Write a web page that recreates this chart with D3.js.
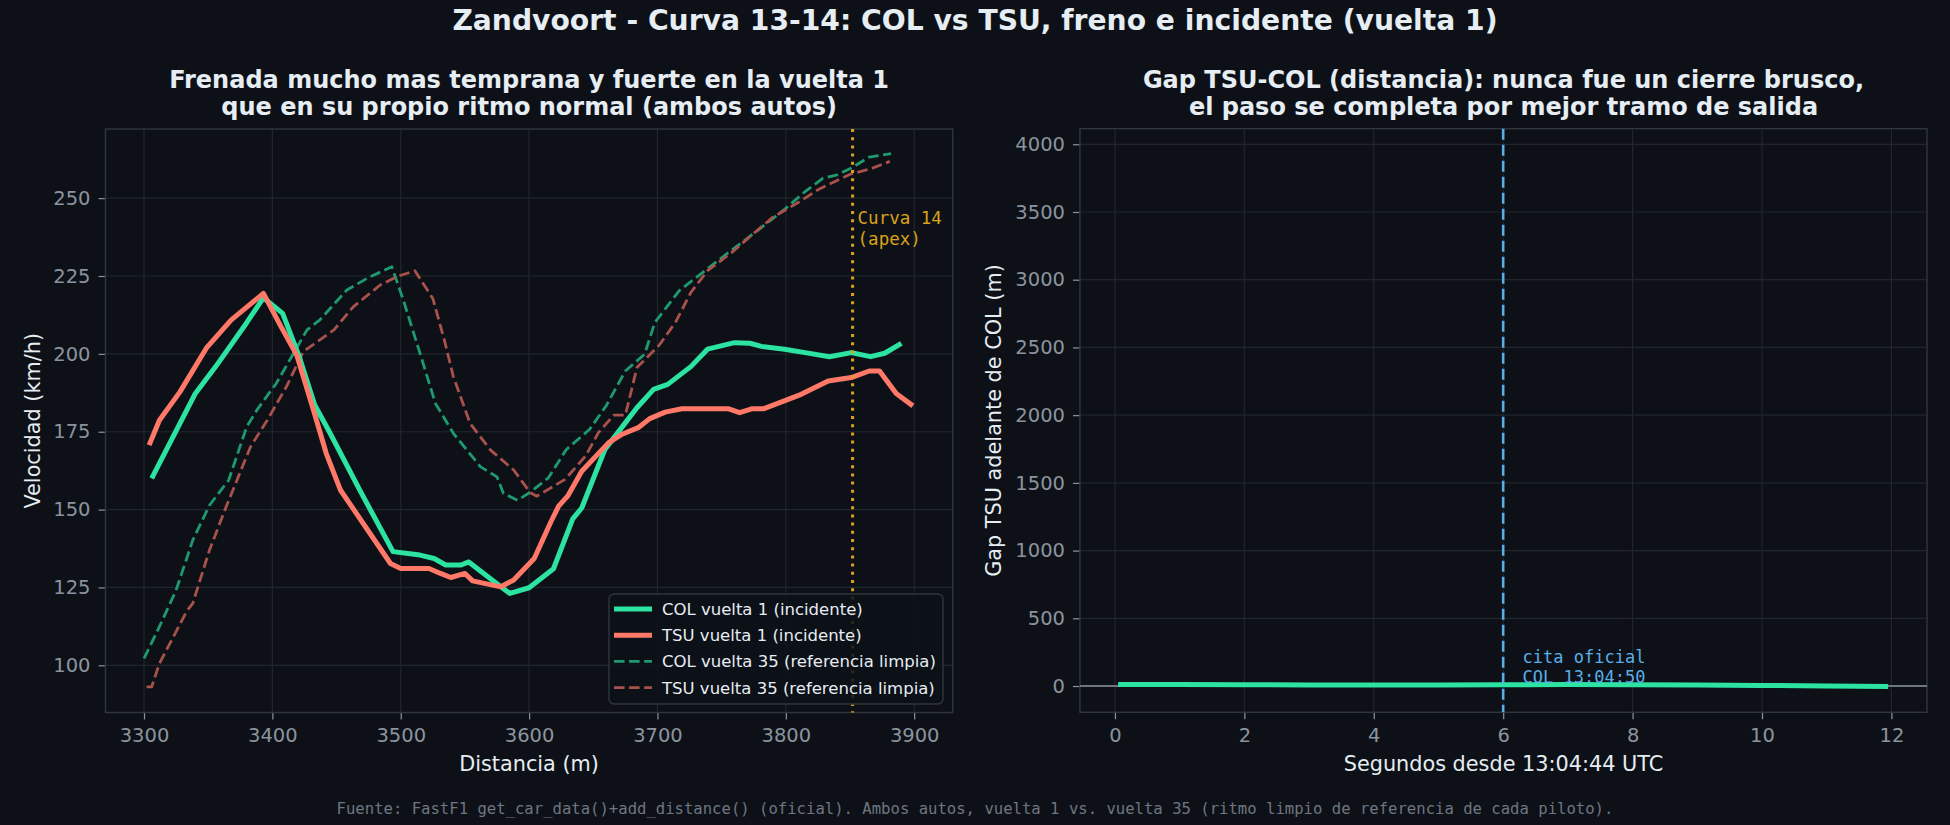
<!DOCTYPE html>
<html>
<head>
<meta charset="utf-8">
<script src="https://cdn.jsdelivr.net/npm/d3@7"></script>
<style>
  html, body { margin: 0; padding: 0; background: #0d1117; }
  svg { display: block; }
  text { font-family: "DejaVu Sans", sans-serif; }
  .mono { font-family: "DejaVu Sans Mono", monospace; }
</style>
</head>
<body>
<div id="chart"></div>
<script>
// -- data: velocidad vs distancia --
var col1_dist  = [3306, 3340, 3356, 3380, 3393, 3408, 3421, 3433, 3445, 3468, 3494, 3515, 3526, 3535, 3547, 3553, 3578, 3585, 3600, 3619, 3634, 3641, 3659, 3673, 3684, 3697, 3708, 3726, 3739, 3760, 3772, 3781, 3799, 3815, 3834, 3851, 3866, 3877, 3890];
var col1_speed = [160, 187.3, 196, 210, 218, 213, 199, 183.6, 174.5, 156.3, 136.5, 135.4, 134.3, 132.2, 132.2, 133.2, 125.2, 123.1, 124.9, 131, 147, 150.5, 169.3, 176.8, 182.7, 188.6, 190.2, 195.9, 201.5, 203.6, 203.4, 202.4, 201.5, 200.4, 199.1, 200.4, 199.1, 200.2, 203.4];

var tsu1_dist  = [3304, 3312, 3328, 3349, 3368, 3393, 3406, 3419, 3432, 3442, 3453, 3492, 3500, 3522, 3531, 3539, 3550, 3556, 3578, 3588, 3604, 3617, 3623, 3630, 3641, 3662, 3672, 3685, 3694, 3706, 3719, 3755, 3764, 3774, 3783, 3812, 3833, 3851, 3865, 3873, 3886, 3899];
var tsu1_speed = [170.7, 178.7, 187.8, 202.1, 210.9, 219.4, 209.3, 199.6, 182, 168, 156.3, 132.7, 131.1, 131.1, 129.5, 128.2, 129.5, 127.1, 125.2, 127.4, 134.3, 146.1, 151.1, 154.3, 162.3, 171.5, 174.1, 176.3, 179.2, 181.3, 182.4, 182.4, 181.1, 182.4, 182.4, 187, 191.3, 192.4, 194.5, 194.5, 187.3, 183.3];

var col35_dist  = [3300, 3312, 3325, 3338, 3351, 3366, 3380, 3388, 3403, 3427, 3437, 3458, 3474, 3493, 3502, 3515, 3527, 3541, 3562, 3575, 3580, 3591, 3601, 3615, 3629, 3647, 3660, 3675, 3690, 3698, 3717, 3737, 3752, 3778, 3799, 3815, 3829, 3840, 3851, 3865, 3882];
var col35_speed = [102.2, 112.4, 124.1, 140.2, 151.4, 159.5, 176.6, 182, 190.5, 207.7, 210.9, 220.5, 224.3, 228, 217.3, 200.2, 184.1, 174.5, 163.8, 160.5, 155.2, 153, 155.6, 160.2, 169.3, 175.7, 183.3, 194.5, 199.9, 210.1, 220.3, 226.7, 231.5, 239.6, 246.4, 252.1, 256.4, 257.5, 259.7, 263.2, 264.3];

var tsu35_dist  = [3302, 3306, 3312, 3325, 3333, 3338, 3351, 3364, 3383, 3396, 3411, 3424, 3448, 3463, 3484, 3497, 3511, 3525, 3534, 3541, 3554, 3570, 3588, 3601, 3606, 3628, 3644, 3654, 3666, 3675, 3684, 3701, 3714, 3726, 3739, 3758, 3773, 3790, 3810, 3825, 3840, 3851, 3866, 3881];
var tsu35_speed = [93.1, 93.1, 100.6, 110.8, 117.2, 119.9, 137, 150.9, 170.2, 178.7, 189.5, 200.7, 207.7, 215.1, 222.1, 224.8, 226.7, 217.8, 204.4, 192.7, 177.7, 169.1, 162.7, 155.4, 154.3, 159.7, 167.2, 174.7, 180.3, 180.3, 195.6, 202.6, 210.1, 219.7, 226.7, 232.6, 238, 243.9, 248.7, 252.7, 255.7, 257.8, 259.4, 261.8];

// -- data: gap TSU-COL --
var gap_t = [0.05, 1, 2, 3, 4, 5, 6, 7, 8, 9, 10, 11, 11.95];
var gap_m = [12, 11, 9, 8, 7, 7, 9, 11, 10, 7, 4, 1, -3];

// -- ticks / marcas --
var left_xticks  = [3300, 3400, 3500, 3600, 3700, 3800, 3900];
var left_yticks  = [100, 125, 150, 175, 200, 225, 250];
var right_xticks = [0, 2, 4, 6, 8, 10, 12];
var right_yticks = [0, 500, 1000, 1500, 2000, 2500, 3000, 3500, 4000];
var apex_dist = 3852;
var cita_t = 6;

var legend_labels = ["COL vuelta 1 (incidente)", "TSU vuelta 1 (incidente)", "COL vuelta 35 (referencia limpia)", "TSU vuelta 35 (referencia limpia)"];

var COL = "#2de3a2", TSU = "#ff7868";
var COL_REF = "#1f9a70", TSU_REF = "#a8524b";
var GRID = "#21262d", SPINE = "#30363d", TICK = "#8b949e", TXT = "#e6edf3";
var APEX = "#d9a21b", BLUE = "#5aaee8";

var W = 1950, H = 825;

var svg = d3.select("#chart").append("svg")
  .attr("width", W).attr("height", H);

svg.append("rect").attr("width", W).attr("height", H).attr("fill", "#0d1117");

// main title
svg.append("text")
  .text("Zandvoort - Curva 13-14: COL vs TSU, freno e incidente (vuelta 1)")
  .attr("x", 975).attr("y", 30)
  .attr("text-anchor", "middle")
  .style("font-weight", "bold").style("font-size", "28.2px")
  .attr("fill", TXT);

// footer
svg.append("text")
  .attr("class", "mono")
  .text("Fuente: FastF1 get_car_data()+add_distance() (oficial). Ambos autos, vuelta 1 vs. vuelta 35 (ritmo limpio de referencia de cada piloto).")
  .attr("x", 975).attr("y", 814)
  .attr("text-anchor", "middle")
  .style("font-size", "15.6px")
  .attr("fill", "#6e7681");

var pairs = function (xs, ys) {
  var r = [];
  for (var i = 0; i < xs.length; i++) { r.push([xs[i], ys[i]]); }
  return r;
};

// == panel helper ==
var panel = function (box, xdom, ydom, xticks, yticks, title, xlabel, ylabel, ylabel_x) {
  var w = box.right - box.left, h = box.bottom - box.top;
  var g = svg.append("g").attr("transform", "translate(" + box.left + "," + box.top + ")");

  var x = d3.scaleLinear().domain(xdom).range([0, w]);
  var y = d3.scaleLinear().domain(ydom).range([h, 0]);

  // grid
  g.append("g").selectAll("line").data(xticks).enter().append("line")
    .attr("x1", function (d) { return x(d); }).attr("x2", function (d) { return x(d); })
    .attr("y1", 0).attr("y2", h)
    .attr("stroke", GRID).attr("stroke-width", 1.2);
  g.append("g").selectAll("line").data(yticks).enter().append("line")
    .attr("x1", 0).attr("x2", w)
    .attr("y1", function (d) { return y(d); }).attr("y2", function (d) { return y(d); })
    .attr("stroke", GRID).attr("stroke-width", 1.2);

  // axes
  var xa = g.append("g").attr("transform", "translate(0," + h + ")")
    .call(d3.axisBottom(x).tickValues(xticks).tickFormat(d3.format("d"))
      .tickSize(7).tickSizeOuter(0).tickPadding(9));
  var ya = g.append("g")
    .call(d3.axisLeft(y).tickValues(yticks).tickFormat(d3.format("d"))
      .tickSize(7).tickSizeOuter(0).tickPadding(8));
  [xa, ya].forEach(function (a) {
    a.select(".domain").remove();
    a.selectAll(".tick line").attr("stroke", TICK).attr("stroke-width", 1.2);
    a.selectAll(".tick text").attr("fill", TICK)
      .style("font-size", "19.5px").style("font-family", "DejaVu Sans, sans-serif");
  });

  // spines
  g.append("rect").attr("x", 0).attr("y", 0).attr("width", w).attr("height", h)
    .attr("fill", "none").attr("stroke", SPINE).attr("stroke-width", 1.4);

  // titles and labels
  var cx = box.left + w / 2;
  title.forEach(function (t, i) {
    svg.append("text").text(t)
      .attr("x", cx).attr("y", 87.5 + i * 27.5)
      .attr("text-anchor", "middle")
      .style("font-weight", "bold").style("font-size", "24px")
      .attr("fill", TXT);
  });
  svg.append("text").text(xlabel)
    .attr("x", cx).attr("y", 771)
    .attr("text-anchor", "middle")
    .style("font-size", "20.8px").attr("fill", TXT);
  svg.append("text").text(ylabel)
    .attr("transform", "translate(" + ylabel_x + "," + (box.top + h / 2) + ") rotate(-90)")
    .attr("text-anchor", "middle")
    .style("font-size", "20.8px").attr("fill", TXT);

  return { g: g, x: x, y: y, w: w, h: h };
};

// == left: velocidad ==
var L = panel({ left: 105.5, right: 952.7, top: 129, bottom: 712.5 },
  [3270, 3930], [84.85, 272.2], left_xticks, left_yticks,
  ["Frenada mucho mas temprana y fuerte en la vuelta 1", "que en su propio ritmo normal (ambos autos)"],
  "Distancia (m)", "Velocidad (km/h)", 39.5);

var line_l = d3.line()
  .x(function (d) { return L.x(d[0]); })
  .y(function (d) { return L.y(d[1]); });

var series = [
  { xs: col35_dist, ys: col35_speed, color: COL_REF, width: 2.8, dash: "10.5,4.6" },
  { xs: tsu35_dist, ys: tsu35_speed, color: TSU_REF, width: 2.8, dash: "10.5,4.6" },
  { xs: col1_dist, ys: col1_speed, color: COL, width: 5, dash: null },
  { xs: tsu1_dist, ys: tsu1_speed, color: TSU, width: 5, dash: null }
];

series.forEach(function (s) {
  L.g.append("path")
    .datum(pairs(s.xs, s.ys))
    .attr("d", line_l)
    .attr("fill", "none")
    .attr("stroke", s.color)
    .attr("stroke-width", s.width)
    .attr("stroke-linejoin", "round")
    .attr("stroke-dasharray", s.dash);
});

// apex
L.g.append("line")
  .attr("x1", L.x(apex_dist)).attr("x2", L.x(apex_dist))
  .attr("y1", 0).attr("y2", L.h)
  .attr("stroke", APEX).attr("stroke-width", 3)
  .attr("stroke-dasharray", "3,5.2");

L.g.append("text").attr("class", "mono")
  .attr("x", L.x(apex_dist) + 5).attr("y", L.y(241.6))
  .style("font-size", "17.5px").attr("fill", APEX)
  .selectAll("tspan").data(["Curva 14", "(apex)"]).enter().append("tspan")
  .attr("x", L.x(apex_dist) + 5)
  .attr("dy", function (d, i) { return i == 0 ? 0 : 20.5; })
  .text(function (d) { return d; });

// legend
var lg = svg.append("g").attr("transform", "translate(609,594)");
lg.append("rect").attr("width", 334).attr("height", 110).attr("rx", 5)
  .attr("fill", "#0d1117").attr("fill-opacity", 0.85)
  .attr("stroke", SPINE).attr("stroke-width", 1.4);
var leg_series = [series[2], series[3], series[0], series[1]];
leg_series.forEach(function (s, i) {
  var yy = 15 + i * 26.2;
  lg.append("line")
    .attr("x1", 5).attr("x2", 43).attr("y1", yy).attr("y2", yy)
    .attr("stroke", s.color).attr("stroke-width", s.width)
    .attr("stroke-dasharray", s.dash);
  lg.append("text").text(legend_labels[i])
    .attr("x", 53).attr("y", yy).attr("dy", "0.36em")
    .style("font-size", "16.5px").attr("fill", TXT);
});

// == right: gap ==
var R = panel({ left: 1080, right: 1927, top: 128.7, bottom: 712.3 },
  [-0.54, 12.55], [-194, 4115], right_xticks, right_yticks,
  ["Gap TSU-COL (distancia): nunca fue un cierre brusco,", "el paso se completa por mejor tramo de salida"],
  "Segundos desde 13:04:44 UTC", "Gap TSU adelante de COL (m)", 1000.5);

// zero line
R.g.append("line")
  .attr("x1", 0).attr("x2", R.w)
  .attr("y1", R.y(0)).attr("y2", R.y(0))
  .attr("stroke", TICK).attr("stroke-width", 1.6);

var line_r = d3.line()
  .x(function (d) { return R.x(d[0]); })
  .y(function (d) { return R.y(d[1]); });

R.g.append("path")
  .datum(pairs(gap_t, gap_m))
  .attr("d", line_r)
  .attr("fill", "none")
  .attr("stroke", COL)
  .attr("stroke-width", 5);

// cita oficial
R.g.append("line")
  .attr("x1", R.x(cita_t)).attr("x2", R.x(cita_t))
  .attr("y1", 0).attr("y2", R.h)
  .attr("stroke", BLUE).attr("stroke-width", 2.6)
  .attr("stroke-dasharray", "11,5");

R.g.append("text").attr("class", "mono")
  .style("font-size", "17px").attr("fill", BLUE)
  .selectAll("tspan").data(["cita oficial", "COL 13:04:50"]).enter().append("tspan")
  .attr("x", R.x(cita_t + 0.3))
  .attr("y", function (d, i) { return R.y(172) + i * 20; })
  .text(function (d) { return d; });
</script>
</body>
</html>
